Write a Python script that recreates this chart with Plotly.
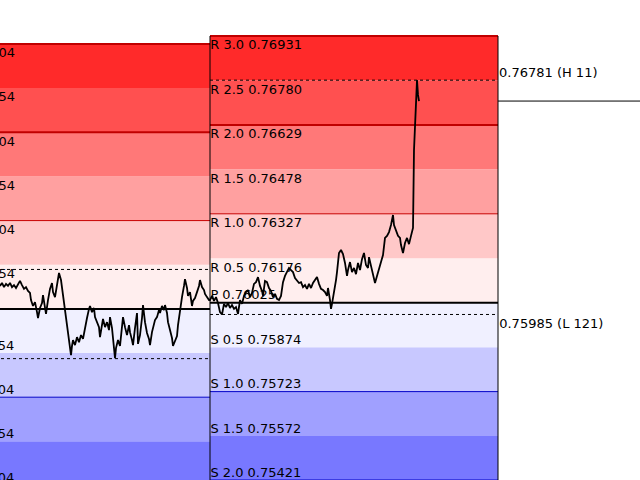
import plotly.graph_objects as go

# ---------------- data ----------------
level_names = ["S 2.0", "S 1.5", "S 1.0", "S 0.5", "P", "R 0.5", "R 1.0", "R 1.5", "R 2.0", "R 2.5", "R 3.0"]
today_levels = [0.75421, 0.75572, 0.75723, 0.75874, 0.76025, 0.76176, 0.76327, 0.76478, 0.76629, 0.76780, 0.76931]
prev_levels = [0.75404, 0.75554, 0.75704, 0.75854, 0.76004, 0.76154, 0.76304, 0.76454, 0.76604, 0.76754, 0.76904]

prev_day = (-77, 210)     # bar positions of previous session
today_day = (210, 498)    # bar positions of current session

today_high, today_low = 0.76781, 0.75985
today_high_label, today_low_label = "0.76781 (H 11)", "0.75985 (L 121)"
prev_high, prev_low = 0.76138, 0.75835
last_price = 0.76710

bars = [0, 2, 4, 6, 8, 10, 12, 14, 16, 18, 20, 22, 24, 26, 28, 30, 31, 33, 35, 37, 38, 40, 42, 43, 45, 46, 48, 50,
        52, 53, 55, 57, 59, 61, 62, 63, 65, 67, 68, 70, 71, 72, 73, 75, 77, 79, 81, 83, 85, 87, 89, 90, 92, 94, 95,
        97, 99, 100, 102, 103, 105, 107, 109, 110, 112, 113, 115, 116, 118, 120, 122, 123, 125, 127, 129, 130, 132,
        133, 135, 137, 138, 140, 142, 143, 145, 147, 149, 150, 152, 153, 155, 157, 159, 160, 162, 164, 165, 167,
        168, 170, 172, 173, 175, 177, 178, 180, 182, 184, 185, 187, 188, 190, 192, 193, 195, 197, 199, 200, 202,
        204, 205, 207, 209,
        210, 212, 214, 216, 218, 220, 222, 224, 226, 228, 230, 232, 234, 236, 238, 240, 242, 244, 246, 248, 250,
        252, 254, 256, 258, 260, 262, 263, 265, 267, 269, 271, 273, 275, 277, 279, 281, 283, 285, 287, 289, 291,
        293, 295, 297, 299, 301, 303, 305, 307, 309, 311, 313, 315, 317, 319, 321, 323, 325, 327, 328, 330, 331,
        332, 334, 336, 337, 338, 339, 341, 343, 345, 347, 348, 350, 352, 354, 356, 358, 360, 362, 364, 366, 368,
        369, 371, 373, 375, 377, 379, 381, 383, 384, 385, 387, 389, 391, 393, 394, 396, 398, 400, 401, 403, 405,
        407, 409, 411, 413, 414, 415, 416, 417, 418, 419]

close = [0.76082, 0.76092, 0.76078, 0.76089, 0.76082, 0.76092, 0.76078, 0.76085, 0.76075, 0.76089, 0.76099,
         0.76085, 0.76072, 0.76078, 0.76065, 0.76058, 0.76034, 0.76014, 0.76027, 0.75993, 0.75973, 0.76007,
         0.76024, 0.76051, 0.76017, 0.75987, 0.76034, 0.76072, 0.76092, 0.76061, 0.76044, 0.76085, 0.76126,
         0.76102, 0.76078, 0.76048, 0.76007, 0.75959, 0.75922, 0.75881, 0.75847, 0.75878, 0.75898, 0.75881,
         0.75908, 0.75891, 0.75915, 0.75902, 0.75942, 0.75973, 0.76004, 0.76014, 0.75993, 0.76007, 0.75976,
         0.75959, 0.75942, 0.75908, 0.75949, 0.75970, 0.75942, 0.75959, 0.75932, 0.75976, 0.75939, 0.75908,
         0.75837, 0.75871, 0.75898, 0.75878, 0.75932, 0.75976, 0.75942, 0.75915, 0.75949, 0.75925, 0.75898,
         0.75881, 0.75939, 0.75990, 0.75885, 0.75915, 0.75973, 0.76017, 0.75959, 0.75922, 0.75902, 0.75881,
         0.75925, 0.75942, 0.75966, 0.75976, 0.76000, 0.75990, 0.76014, 0.76000, 0.76017, 0.75990, 0.75959,
         0.75932, 0.75905, 0.75878, 0.75898, 0.75912, 0.75949, 0.76000, 0.76044, 0.76082, 0.76105, 0.76075,
         0.76048, 0.76061, 0.76014, 0.76031, 0.76041, 0.76061, 0.76082, 0.76102, 0.76078, 0.76068, 0.76055,
         0.76044, 0.76034,
         0.76034, 0.76048, 0.76031, 0.76044, 0.76024, 0.75993, 0.75985, 0.76021, 0.76010, 0.76024, 0.76007,
         0.76017, 0.76004, 0.76010, 0.75987, 0.76034, 0.76021, 0.76048, 0.76061, 0.76068, 0.76044, 0.76058,
         0.76089, 0.76095, 0.76112, 0.76082, 0.76065, 0.76048, 0.76099, 0.76095, 0.76075, 0.76065, 0.76044,
         0.76055, 0.76038, 0.76034, 0.76048, 0.76095, 0.76116, 0.76129, 0.76143, 0.76136, 0.76129, 0.76109,
         0.76102, 0.76092, 0.76095, 0.76078, 0.76085, 0.76072, 0.76089, 0.76075, 0.76092, 0.76102, 0.76112,
         0.76089, 0.76072, 0.76068, 0.76061, 0.76048, 0.76075, 0.76034, 0.76004, 0.76021, 0.76058, 0.76102,
         0.76129, 0.76163, 0.76194, 0.76204, 0.76190, 0.76160, 0.76116, 0.76136, 0.76163, 0.76129, 0.76143,
         0.76122, 0.76160, 0.76136, 0.76173, 0.76194, 0.76153, 0.76143, 0.76180, 0.76150, 0.76119, 0.76092,
         0.76116, 0.76136, 0.76163, 0.76187, 0.76228, 0.76245, 0.76252, 0.76265, 0.76289, 0.76323, 0.76289,
         0.76272, 0.76252, 0.76245, 0.76221, 0.76194, 0.76228, 0.76245, 0.76224, 0.76252, 0.76279, 0.76544,
         0.76646, 0.76714, 0.76781, 0.76731, 0.76710]

band_colors = ["#7878FF", "#A0A0FF", "#C8C8FF", "#F0F0FF", "#FFEEEE",
               "#FFC8C8", "#FFA0A0", "#FF7878", "#FF5050", "#FF2A2A"]
line_colors = ["#0000C8", None, "#0000C8", None, "#000000", None, "#C80000", None, "#C00000", None, "#C00000"]
line_widths = [2, 0, 1, 0, 2, 0, 1, 0, 2, 0, 2]

FONT = dict(family="DejaVu Sans, Verdana, sans-serif", size=13, color="#000000")

# The chart window shows bars 0..640; the plot area runs a little further (left and bottom)
# so that label anchors of the partly visible objects stay inside the axis range.
X_RANGE = [-100, 640]
Y_RANGE = [0.753548, 0.770533]
FIG_W, FIG_H, SHIFT_LEFT = 740, 500, 100

# ---------------- figure ----------------
fig = go.Figure()
shapes = []

for (x0, x1), levels in ((prev_day, prev_levels), (today_day, today_levels)):
    for i in range(len(levels) - 1):
        shapes.append(dict(type="rect", xref="x", yref="y", x0=x0, x1=x1, y0=levels[i], y1=levels[i + 1],
                           fillcolor=band_colors[i], line=dict(width=0), layer="below"))
    for i, lv in enumerate(levels):
        if line_colors[i]:
            shapes.append(dict(type="line", xref="x", yref="y", x0=x0, x1=x1, y0=lv, y1=lv,
                               line=dict(color=line_colors[i], width=line_widths[i]), layer="below"))

# high / low dashed lines
for (x0, x1), hi, lo in ((prev_day, prev_high, prev_low), (today_day, today_high, today_low)):
    for v in (hi, lo):
        shapes.append(dict(type="line", xref="x", yref="y", x0=x0, x1=x1, y0=v, y1=v,
                           line=dict(color="#000000", width=1, dash="3px,3px"), layer="below"))

# session borders of current day
for xb in today_day:
    shapes.append(dict(type="line", xref="x", yref="y", x0=xb, x1=xb, y0=Y_RANGE[0], y1=today_levels[-1],
                       line=dict(color="#000000", width=1), layer="below"))

# last price line across whole chart
shapes.append(dict(type="line", xref="paper", yref="y", x0=0, x1=1, y0=last_price, y1=last_price,
                   line=dict(color="#000000", width=1), layer="below"))

# level labels at the start of each session
for (x0, x1), levels in ((prev_day, prev_levels), (today_day, today_levels)):
    up_x, up_y, up_t, dn_x, dn_y, dn_t = [], [], [], [], [], []
    for name, lv in zip(level_names, levels):
        txt = "%s %.5f" % (name, lv)
        if name.startswith("R"):
            up_x.append(x0 - 3.4); up_y.append(lv); up_t.append(txt)
        else:
            dn_x.append(x0 + 0.4); dn_y.append(lv); dn_t.append(txt)
    fig.add_trace(go.Scatter(x=up_x, y=up_y, text=up_t, mode="markers+text", textposition="bottom right",
                             marker=dict(size=4.2, opacity=0), textfont=FONT, cliponaxis=True,
                             hoverinfo="skip", showlegend=False))
    fig.add_trace(go.Scatter(x=dn_x, y=dn_y, text=dn_t, mode="text", textposition="top right",
                             textfont=FONT, cliponaxis=True, hoverinfo="skip", showlegend=False))

# high / low labels
fig.add_trace(go.Scatter(x=[today_day[1] + 1], y=[today_high], text=[today_high_label], mode="text",
                         textposition="top right", textfont=FONT, cliponaxis=False,
                         hoverinfo="skip", showlegend=False))
fig.add_trace(go.Scatter(x=[today_day[1] - 2.4], y=[today_low], text=[today_low_label], mode="markers+text",
                         textposition="bottom right", marker=dict(size=4.2, opacity=0), textfont=FONT,
                         cliponaxis=False, hoverinfo="skip", showlegend=False))

# price line
fig.add_trace(go.Scatter(x=bars, y=close, mode="lines", line=dict(color="#000000", width=1.8),
                         hoverinfo="skip", showlegend=False))

fig.update_layout(
    width=FIG_W, height=FIG_H,
    margin=dict(l=0, r=0, t=0, b=0),
    paper_bgcolor="#FFFFFF", plot_bgcolor="#FFFFFF",
    shapes=shapes,
    xaxis=dict(range=X_RANGE, visible=False, showgrid=False, zeroline=False, fixedrange=True),
    yaxis=dict(range=Y_RANGE, visible=False, showgrid=False, zeroline=False, fixedrange=True),
    showlegend=False,
)

post = ("document.body.style.margin='0px';document.body.style.overflow='hidden';"
        "document.getElementById('{plot_id}').style.marginLeft='-%dpx';" % SHIFT_LEFT)
fig.write_html("out.html", config={"displayModeBar": False}, post_script=post)
